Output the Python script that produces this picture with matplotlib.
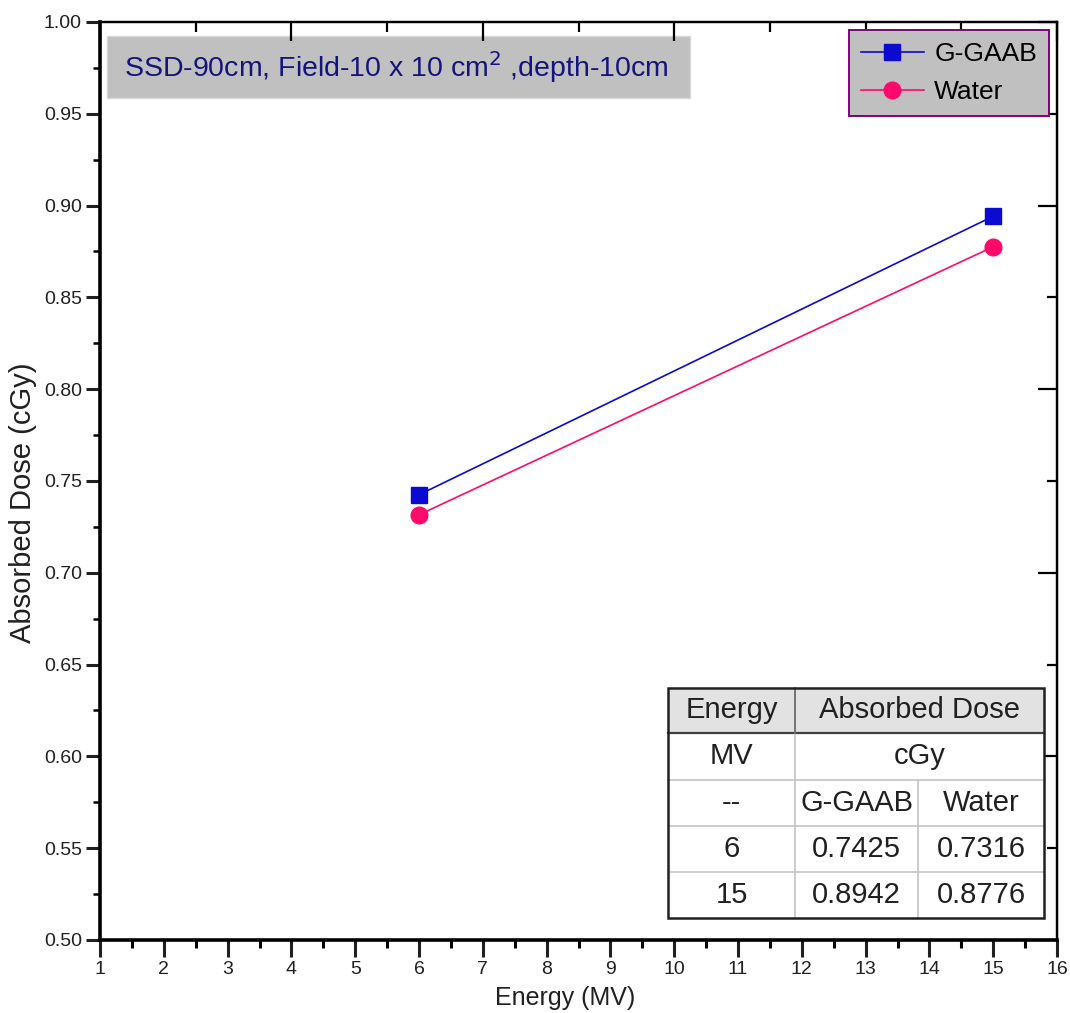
import numpy as np
import matplotlib.pyplot as plt
from matplotlib.patches import Rectangle
from matplotlib.ticker import MultipleLocator, FixedLocator

plt.rcParams['font.family'] = ['Liberation Sans', 'DejaVu Sans']

energy = [6, 15]
dose_ggaab = [0.7425, 0.8942]
dose_water = [0.7316, 0.8776]

table_head = ["Energy", "Absorbed Dose"]
table_units = ["MV", "cGy"]
table_sub = ["--", "G-GAAB", "Water"]

fig = plt.figure(figsize=(10.70, 10.13), dpi=100)
ax = fig.add_axes([0.0935, 0.0721, 0.8944, 0.9062])

ax.plot(energy, dose_ggaab, color='#0a0ad0', lw=1.2, marker='s', ms=12,
        label='G-GAAB', zorder=3)
ax.plot(energy, dose_water, color='#ff0a6a', lw=1.2, marker='o', ms=12,
        label='Water', zorder=3)

ax.set_xlim(1, 16)
ax.set_ylim(0.5, 1.0)
ax.xaxis.set_major_locator(MultipleLocator(1))
ax.xaxis.set_minor_locator(MultipleLocator(0.5))
ax.yaxis.set_major_locator(MultipleLocator(0.05))
ax.yaxis.set_minor_locator(MultipleLocator(0.025))
ax.yaxis.set_major_formatter(lambda v, p: "%.2f" % v)
ax.tick_params(which='major', direction='out', length=12, width=2.2,
               labelsize=14, colors='#202020', pad=3)
ax.tick_params(which='minor', direction='out', length=6, width=2.2)
ax.tick_params(axis='y', which='major', length=10)
ax.tick_params(axis='y', which='minor', length=5, width=1.8)

for s in ['left', 'bottom']:
    ax.spines[s].set_linewidth(2.6)
for s in ['top', 'right']:
    ax.spines[s].set_linewidth(1.6)

# top axis: ticks every 3 starting at 1, pointing inward
top = ax.twiny()
top.set_xlim(ax.get_xlim())
top.xaxis.set_major_locator(FixedLocator(np.arange(1, 16.5, 3)))
top.xaxis.set_minor_locator(FixedLocator(np.arange(2.5, 16, 3)))
top.tick_params(which='major', direction='in', length=14, width=1.6, labeltop=False)
top.tick_params(which='minor', direction='in', length=7, width=1.6)
top.spines['top'].set_linewidth(1.6)

right = ax.secondary_yaxis('right')
right.yaxis.set_major_locator(MultipleLocator(0.1))
right.yaxis.set_minor_locator(MultipleLocator(0.05))
right.tick_params(which='major', direction='in', length=14, width=1.6, labelright=False)
right.tick_params(which='minor', direction='in', length=7, width=1.6)
right.spines['right'].set_linewidth(1.6)

ax.set_xlabel("Energy (MV)", fontsize=18, color='#202020')
ax.set_ylabel("Absorbed Dose (cGy)", fontsize=21, color='#202020')
ax.xaxis.set_label_coords(0.486, -0.05)
ax.yaxis.set_label_coords(-0.066, 0.476)

# title box
ax.add_patch(Rectangle((0.0073, 0.917), 0.6092, 0.068, transform=ax.transAxes,
                       facecolor='#c0c0c0', edgecolor='#d8d8d8', lw=1, zorder=2))
ax.text(0.0251, 0.951, "SSD-90cm, Field-10 x 10 cm$^{2}$ ,depth-10cm",
        transform=ax.transAxes, fontsize=20.5, color='#14147a', va='center', ha='left',
        zorder=3)

leg = top.legend(*ax.get_legend_handles_labels(), loc='upper right',
                 bbox_to_anchor=(0.9916, 0.9913), fontsize=19,
                 frameon=True, fancybox=False, edgecolor='#800080', facecolor='#c0c0c0',
                 framealpha=1, handlelength=2.4, borderpad=0.45, labelspacing=0.55,
                 handletextpad=0.4, borderaxespad=0)
leg.get_frame().set_linewidth(1.4)

# data table
x0, x1, x2, x3 = 0.5935, 0.7262, 0.8548, 0.9864
ys = [0.2745, 0.2255, 0.1743, 0.1242, 0.0741, 0.024]
tr = ax.transAxes
ax.add_patch(Rectangle((x0, ys[1]), x3 - x0, ys[0] - ys[1], transform=tr,
                       facecolor='#e2e2e2', edgecolor='none', zorder=4))
ax.add_patch(Rectangle((x0, ys[5]), x3 - x0, ys[1] - ys[5], transform=tr,
                       facecolor='white', edgecolor='none', zorder=4))
lc = '#c4c4c4'
for y in ys[2:5]:
    ax.plot([x0, x3], [y, y], color=lc, lw=1.2, transform=tr, zorder=5)
ax.plot([x0, x3], [ys[1], ys[1]], color='#404040', lw=1.6, transform=tr, zorder=5)
ax.plot([x1, x1], [ys[5], ys[1]], color=lc, lw=1.2, transform=tr, zorder=5)
ax.plot([x1, x1], [ys[1], ys[0]], color='#606060', lw=1.2, transform=tr, zorder=5)
ax.plot([x2, x2], [ys[5], ys[2]], color=lc, lw=1.2, transform=tr, zorder=5)
ax.add_patch(Rectangle((x0, ys[5]), x3 - x0, ys[0] - ys[5], transform=tr,
                       facecolor='none', edgecolor='#202020', lw=1.8, zorder=6))

fs = 21
tc = '#202020'
def cell(x, y, s):
    ax.text(x, y, s, transform=tr, fontsize=fs, color=tc, ha='center', va='center', zorder=7)

cm0, cm1, cm2 = (x0 + x1) / 2, (x1 + x2) / 2, (x2 + x3) / 2
cmid = (x1 + x3) / 2
cell(cm0, (ys[0] + ys[1]) / 2, table_head[0])
cell(cmid, (ys[0] + ys[1]) / 2, table_head[1])
cell(cm0, (ys[1] + ys[2]) / 2, table_units[0])
cell(cmid, (ys[1] + ys[2]) / 2, table_units[1])
for x, s in zip([cm0, cm1, cm2], table_sub):
    cell(x, (ys[2] + ys[3]) / 2, s)
for i in range(len(energy)):
    yc = (ys[3 + i] + ys[4 + i]) / 2
    cell(cm0, yc, str(energy[i]))
    cell(cm1, yc, "%.4f" % dose_ggaab[i])
    cell(cm2, yc, "%.4f" % dose_water[i])

fig.savefig("out.png", dpi=100)
